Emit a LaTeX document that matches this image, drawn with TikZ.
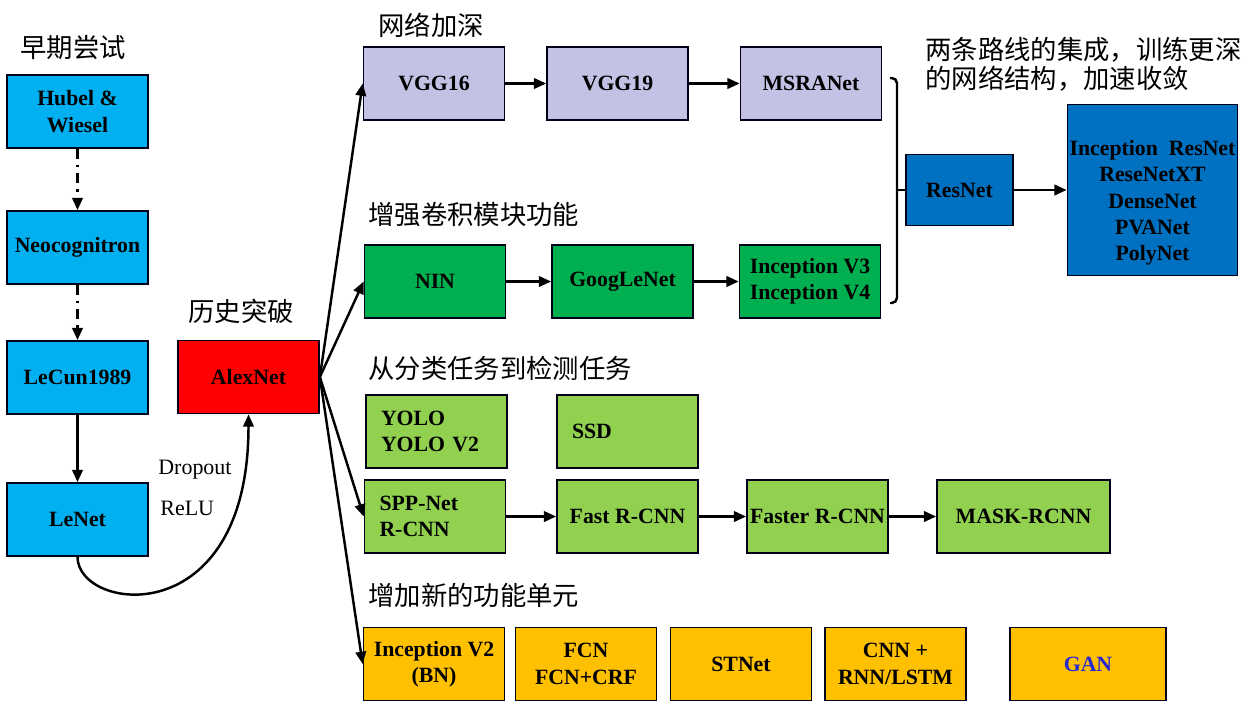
\documentclass[tikz,border=0pt]{standalone}
\usepackage{fontspec}
\setmainfont{Liberation Serif}
\newfontfamily\cjk{Noto Sans CJK SC}
\usetikzlibrary{arrows.meta}

\definecolor{earlyblue}{RGB}{0,176,240}
\definecolor{deepblue}{RGB}{0,112,192}
\definecolor{lavender}{RGB}{196,194,228}
\definecolor{darkgreen}{RGB}{0,176,80}
\definecolor{lightgreen}{RGB}{146,208,80}
\definecolor{amber}{RGB}{255,192,0}
\definecolor{ganblue}{RGB}{40,40,210}

\begin{document}
\begin{tikzpicture}[x=0.02cm,y=-0.02cm,
  box/.style={draw=black!90!blue, line width=1pt, minimum width=2.82cm,
    minimum height=1.46cm, inner sep=0pt, align=center,
    font=\bfseries\fontsize{12.4}{15}\selectfont},
  leftbox/.style={box, text width=2.22cm, inner xsep=0.3cm, align=left},
  link/.style={-{Triangle[length=7pt,width=6pt]}, line width=1.4pt},
  title/.style={anchor=west, inner sep=0pt, font=\cjk\fontsize{15}{16.5}\selectfont}]
  \useasboundingbox (0,0) rectangle (1256,703);

  % titles
  \node[title] (t1) at (20,48) {早期尝试};
  \node[title] (t2) at (188,311) {历史突破};
  \node[title] (t3) at (378,25) {网络加深};
  \node[title] (t4) at (368,215) {增强卷积模块功能};
  \node[title] (t5) at (368,368) {从分类任务到检测任务};
  \node[title] (t6) at (368,595) {增加新的功能单元};
  \node[title, align=left] (t7) at (925,64.5) {两条路线的集成，训练更深\\的网络结构，加速收敛};

  % early attempts
  \node[box, fill=earlyblue] (hubel) at (77.5,111.5) {Hubel \&\\Wiesel};
  \node[box, fill=earlyblue] (neo) at (77.5,247.5) {Neocognitron};
  \node[box, fill=earlyblue] (lecun) at (77.5,377.5) {LeCun1989};
  \node[box, fill=earlyblue] (lenet) at (77.5,519.5) {LeNet};
  \node[box, fill=red] (alex) at (248.5,377) {AlexNet};

  \draw[link, dash pattern=on 5.5pt off 3.5pt on 1.5pt off 3.5pt] (hubel) -- (neo);
  \draw[link, dash pattern=on 5.5pt off 3.5pt on 1.5pt off 3.5pt] (neo) -- (lecun);
  \draw[link] (lecun) -- (lenet);
  \draw[link] (lenet.south) .. controls +(0,55) and +(0,220) .. (alex.south);
  \node[anchor=west, inner sep=0pt, font=\fontsize{12.5}{14}\selectfont] (drop) at (158,470) {Dropout};
  \node[anchor=west, inner sep=0pt, font=\fontsize{12.5}{14}\selectfont] (relu) at (160,508) {ReLU};

  % deeper networks
  \node[box, fill=lavender] (vgg16) at (434,83.5) {VGG16};
  \node[box, fill=lavender] (vgg19) at (617.5,83.5) {VGG19};
  \node[box, fill=lavender] (msra) at (811,83.5) {MSRANet};
  \draw[link] (vgg16) -- (vgg19);
  \draw[link] (vgg19) -- (msra);

  % conv modules
  \node[box, fill=darkgreen] (nin) at (435,281.5) {NIN};
  \node[box, fill=darkgreen] (goog) at (622.5,281.5) {GoogLeNet};
  \node[box, fill=darkgreen] (incv3) at (810,281.5) {Inception V3\\Inception V4};
  \draw[link] (nin) -- (goog);
  \draw[link] (goog) -- (incv3);

  % merge of both routes
  \node[box, fill=deepblue, minimum width=2.14cm, minimum height=1.42cm] (resnet) at (959.5,190) {ResNet};
  \node[box, fill=deepblue, minimum width=3.4cm, minimum height=3.42cm] (many) at (1152.5,190) {};
  \node[align=center, inner sep=0pt, font=\bfseries\fontsize{12.4}{15}\selectfont] (manytxt) at (1152.5,203)
    {Inception\enspace ResNet\\ReseNetXT\\DenseNet\\PVANet\\PolyNet};
  \coordinate (bt) at (890,78);
  \coordinate (bb) at (890,303);
  \coordinate (bm) at (897,190);
  \draw[line width=1.4pt, rounded corners=3pt] (bt) -| (bm) |- (bb);
  \draw[line width=1.4pt] (bm) -- (resnet.west);
  \draw[link] (resnet) -- (many);

  % detection
  \node[leftbox, fill=lightgreen] (yolo) at (436.5,431.5) {YOLO\\YOLO V2};
  \node[leftbox, fill=lightgreen] (ssd) at (627.5,431.5) {SSD};
  \node[leftbox, fill=lightgreen] (spp) at (435,516.5) {SPP-Net\\R-CNN};
  \node[box, fill=lightgreen] (fast) at (627.5,516.5) {Fast R-CNN};
  \node[box, fill=lightgreen] (faster) at (817.5,516.5) {Faster R-CNN};
  \node[box, fill=lightgreen, minimum width=3.46cm] (mask) at (1023.5,516.5) {MASK-RCNN};
  \draw[link] (spp) -- (fast);
  \draw[link] (fast) -- (faster);
  \draw[link] (faster) -- (mask);

  % new units
  \node[box, fill=amber] (incv2) at (434,664) {Inception V2\\(BN)};
  \node[box, fill=amber] (fcn) at (586,664) {FCN\\FCN+CRF};
  \node[box, fill=amber] (stn) at (741,664) {STNet};
  \node[box, fill=amber] (rnn) at (895.5,664) {CNN +\\RNN/LSTM};
  \node[box, fill=amber, minimum width=3.12cm, text=ganblue] (gan) at (1088,664) {GAN};

  % fan out of AlexNet
  \foreach \t in {vgg16,nin,spp,incv2}
    \draw[link] (alex.east) -- (\t.west);
\end{tikzpicture}
\end{document}
